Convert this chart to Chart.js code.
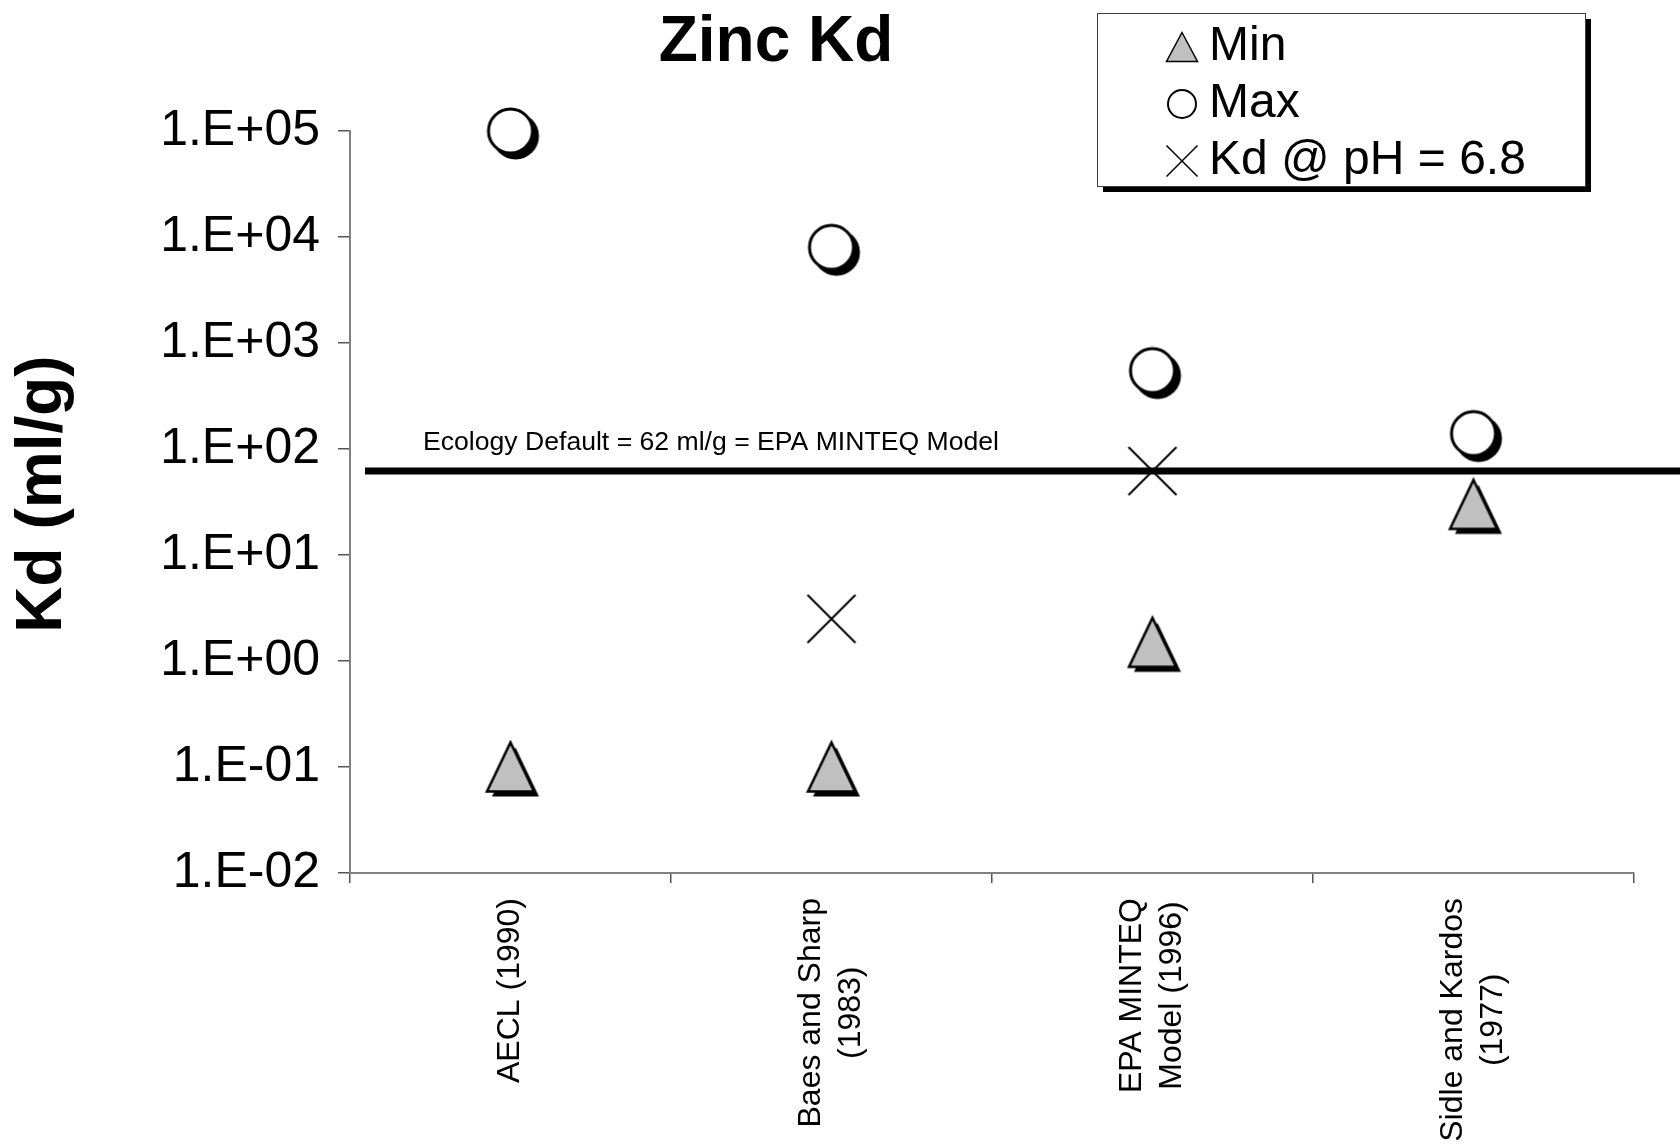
<!DOCTYPE html>
<html>
<head>
<meta charset="utf-8">
<title>Zinc Kd</title>
<script src="https://cdn.jsdelivr.net/npm/chart.js@4.4.1/dist/chart.umd.min.js"></script>
<style>
  html, body { margin: 0; padding: 0; background: #fff; }
  #wrap { width: 1680px; height: 1144px; }
</style>
</head>
<body>
<div id="wrap"><canvas id="myChart" width="1680" height="1144"></canvas></div>
<script>
const FONT = "'Liberation Sans', Arial, Helvetica, sans-serif";

// values
const categories = [['AECL (1990)'], ['Baes and Sharp', '(1983)'], ['EPA MINTEQ', 'Model (1996)'], ['Sidle and Kardos', '(1977)']];
const minKd = [0.1, 0.1, 1.5, 30];
const maxKd = [100000, 8000, 550, 140];
const phKd = [null, 2.5, 62, null];
const seriesNames = ['Min', 'Max', 'Kd @ pH = 6.8'];
const yTickValues = [0.01, 0.1, 1, 10, 100, 1000, 10000, 100000];
const yTickLabels = ['1.E-02', '1.E-01', '1.E+00', '1.E+01', '1.E+02', '1.E+03', '1.E+04', '1.E+05'];
const yTitle = 'Kd (ml/g)';
const defaultKd = 62;
const defaultLabel = 'Ecology Default = 62 ml/g = EPA MINTEQ Model';


//##### marker pictures (excel style, with shadow) #####//

function makeTriangle(w, h, sx, sy, lw) {
    let c = document.createElement('canvas');
    let s = Math.ceil(Math.max(w, h) + 2 * Math.max(sx, sy) + 8);
    if (s % 2) s++;
    c.width = s; c.height = s;
    let g = c.getContext('2d');
    let cx = s / 2, cy = s / 2;
    function path(dx, dy) {
        g.beginPath();
        g.moveTo(cx + dx, cy - h / 2 + dy);
        g.lineTo(cx + w / 2 + dx, cy + h / 2 + dy);
        g.lineTo(cx - w / 2 + dx, cy + h / 2 + dy);
        g.closePath();
    }
    if (sx || sy) {
        path(sx, sy);
        g.fillStyle = '#000';
        g.fill();
    }
    path(0, 0);
    g.fillStyle = '#c0c0c0';
    g.fill();
    g.lineWidth = lw;
    g.strokeStyle = '#000';
    g.stroke();
    return c;
}

function makeCircle(d, sh, lw) {
    let c = document.createElement('canvas');
    let s = Math.ceil(d + 2 * sh + 8);
    if (s % 2) s++;
    c.width = s; c.height = s;
    let g = c.getContext('2d');
    let cx = s / 2, cy = s / 2;
    if (sh) {
        g.beginPath();
        g.arc(cx + sh, cy + sh, d / 2, 0, Math.PI * 2);
        g.fillStyle = '#000';
        g.fill();
    }
    g.beginPath();
    g.arc(cx, cy, d / 2 - lw / 2, 0, Math.PI * 2);
    g.fillStyle = '#fff';
    g.fill();
    g.lineWidth = lw;
    g.strokeStyle = '#000';
    g.stroke();
    return c;
}

function makeCross(size, lw) {
    let c = document.createElement('canvas');
    let s = Math.ceil(size + 6);
    if (s % 2) s++;
    c.width = s; c.height = s;
    let g = c.getContext('2d');
    let a = (s - size) / 2, b = s - a;
    g.beginPath();
    g.moveTo(a, a); g.lineTo(b, b);
    g.moveTo(b, a); g.lineTo(a, b);
    g.lineWidth = lw;
    g.strokeStyle = '#000';
    g.stroke();
    return c;
}

const triBig = makeTriangle(47, 49, 5, 5, 2.5);
const circBig = makeCircle(47, 5, 3);
const crossBig = makeCross(48, 2);
const legendMarks = [makeTriangle(31, 29, 0, 0, 1.5), makeCircle(30, 0, 2), makeCross(31, 1.5)];


//##### title, reference line, category labels, legend #####//

const decor = {
    id: 'decor',
    beforeDatasetsDraw(chart) {
        let ctx = chart.ctx;
        let area = chart.chartArea;
        let y = chart.scales.y.getPixelForValue(defaultKd);
        ctx.save();
        ctx.strokeStyle = '#000';
        ctx.lineWidth = 7;
        ctx.beginPath();
        ctx.moveTo(area.left + 15, y);
        ctx.lineTo(chart.width, y);
        ctx.stroke();
        ctx.fillStyle = '#000';
        ctx.font = '26.6px ' + FONT;
        ctx.textAlign = 'left';
        ctx.textBaseline = 'alphabetic';
        ctx.fillText(defaultLabel, area.left + 73, y - 21);
        ctx.restore();
    },
    afterDraw(chart) {
        let ctx = chart.ctx;
        let area = chart.chartArea;
        let xs = chart.scales.x;
        ctx.save();

        // title
        ctx.fillStyle = '#000';
        ctx.font = 'bold 64px ' + FONT;
        ctx.textAlign = 'center';
        ctx.textBaseline = 'alphabetic';
        ctx.fillText('Zinc Kd', 776, 61);

        // y axis title
        ctx.save();
        ctx.translate(43, 494);
        ctx.rotate(-Math.PI / 2);
        ctx.textBaseline = 'middle';
        ctx.fillText(yTitle, 0, 0);
        ctx.restore();

        // category labels, turned 90 deg, lines centred in their block
        ctx.font = '32px ' + FONT;
        ctx.textBaseline = 'middle';
        for (let i = 0; i < categories.length; i++) {
            let lines = categories[i];
            let maxW = 0;
            lines.forEach(l => { maxW = Math.max(maxW, ctx.measureText(l).width); });
            let x = xs.getPixelForValue(i);
            ctx.save();
            ctx.translate(x, area.bottom + 25);
            ctx.rotate(-Math.PI / 2);
            for (let j = 0; j < lines.length; j++) {
                ctx.fillText(lines[j], -maxW / 2, (j - (lines.length - 1) / 2) * 40);
            }
            ctx.restore();
        }

        // legend box with shadow
        let bx = 1097, by = 13, bw = 488, bh = 173;
        ctx.fillStyle = '#000';
        ctx.fillRect(bx + 6, by + 6, bw, bh);
        ctx.fillStyle = '#fff';
        ctx.fillRect(bx, by, bw, bh);
        ctx.strokeStyle = '#404040';
        ctx.lineWidth = 1;
        ctx.strokeRect(bx + 0.5, by + 0.5, bw, bh);

        ctx.font = '48px ' + FONT;
        ctx.textAlign = 'left';
        ctx.textBaseline = 'middle';
        ctx.fillStyle = '#000';
        for (let i = 0; i < seriesNames.length; i++) {
            let cy = 47 + i * 57;
            let m = legendMarks[i];
            ctx.drawImage(m, 1182 - m.width / 2, cy - m.height / 2);
            ctx.fillText(seriesNames[i], 1209, cy);
        }
        ctx.restore();
    }
};


let pointDefaults = {
    showLine: false,
    pointRadius: 24,
    pointHoverRadius: 24,
    clip: false
};

let myChart = new Chart(document.getElementById('myChart'), {
    type: 'line',
    data: {
        labels: categories,
        datasets: [
            Object.assign({ label: seriesNames[0], data: minKd, pointStyle: triBig }, pointDefaults),
            Object.assign({ label: seriesNames[1], data: maxKd, pointStyle: circBig }, pointDefaults),
            Object.assign({ label: seriesNames[2], data: phKd, pointStyle: crossBig }, pointDefaults)
        ]
    },
    options: {
        responsive: false,
        animation: false,
        devicePixelRatio: 1,
        layout: { padding: { top: 131, right: 46, left: 0, bottom: 0 } },
        plugins: {
            legend: { display: false },
            tooltip: { enabled: false },
            title: { display: false }
        },
        scales: {
            x: {
                type: 'category',
                offset: true,
                grid: { offset: true, drawOnChartArea: false, drawTicks: true, tickLength: 10, color: '#555', lineWidth: 1.5 },
                border: { color: '#808080', width: 2 },
                ticks: { display: false },
                afterFit: s => { s.height = 271; }
            },
            y: {
                type: 'logarithmic',
                min: 0.01,
                max: 100000,
                afterBuildTicks: s => { s.ticks = yTickValues.map(v => ({ value: v })); },
                grid: { drawOnChartArea: false, drawTicks: true, tickLength: 12, color: '#555', lineWidth: 1.5 },
                border: { color: '#808080', width: 2 },
                ticks: {
                    autoSkip: false,
                    padding: 18,
                    color: '#000',
                    font: { family: FONT, size: 50 },
                    callback: (v, i) => yTickLabels[i]
                },
                title: { display: false },
                afterFit: s => { s.width = 350; }
            }
        }
    },
    plugins: [decor]
});
</script>
</body>
</html>
